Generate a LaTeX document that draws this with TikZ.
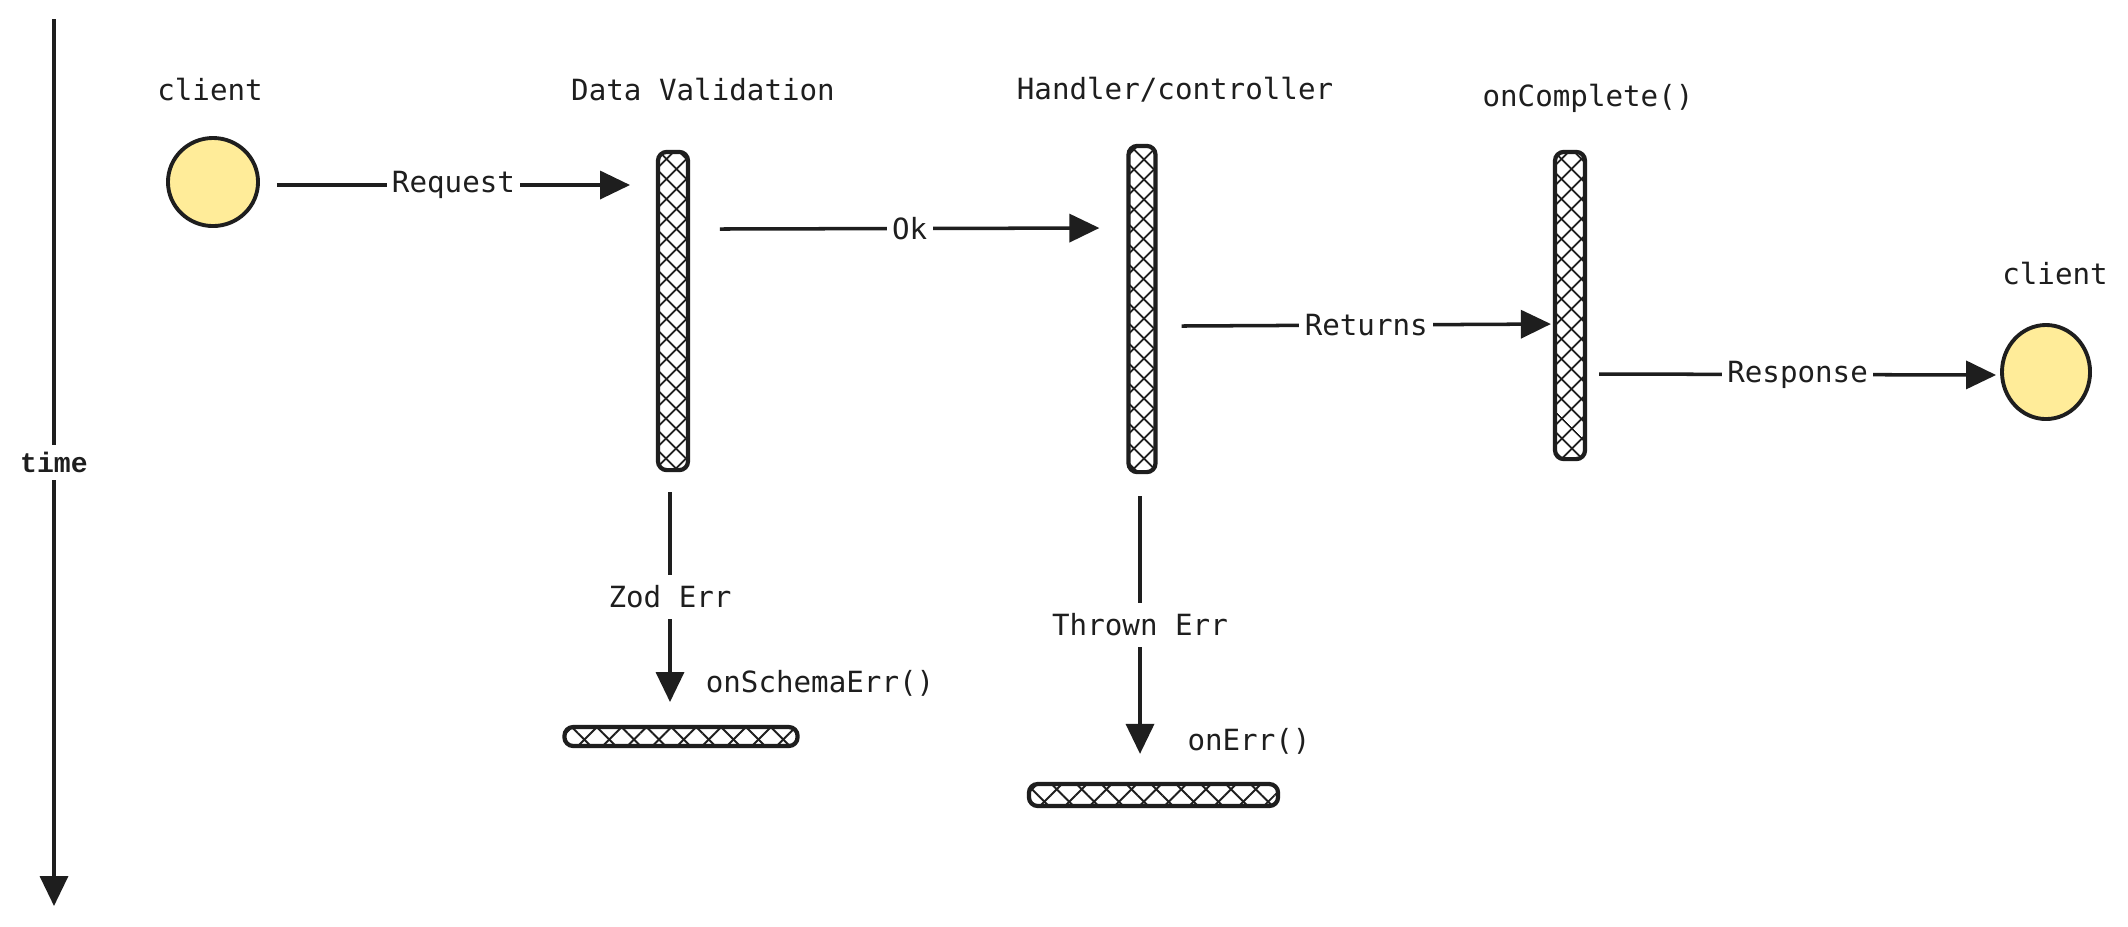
\documentclass[tikz,border=0pt]{standalone}
\usepackage{fontspec}
\setmonofont{DejaVu Sans Mono}
\newfontfamily\timefont{Liberation Mono}
\usetikzlibrary{arrows.meta,patterns.meta,calc,shapes.geometric}
\definecolor{cyellow}{HTML}{FFEC99}
\definecolor{ink}{HTML}{1E1E1E}
\begin{document}
\begin{tikzpicture}[x=0.01cm,y=-0.01cm,
  arr/.style={draw=ink,line width=1pt,-{Triangle[length=0.3cm,width=0.28cm]}},
  lbl/.style={fill=white,inner sep=1.5pt,font=\fontsize{8.3pt}{10pt}\ttfamily,text=ink},
  title/.style={font=\fontsize{8.3pt}{10pt}\ttfamily,text=ink,inner sep=0pt},
  client/.style={ellipse,draw=ink,line width=1.1pt,fill=cyellow,inner sep=0pt},
  vbar/.style={draw=ink,line width=1.2pt,rounded corners=2.5pt,inner sep=0pt,minimum width=0.3cm,
    pattern={Lines[angle=45,distance=4pt,line width=0.55pt]},pattern color=ink,
    postaction={pattern={Lines[angle=-45,distance=4pt,line width=0.55pt]},pattern color=ink}},
  hbar/.style={draw=ink,line width=1.2pt,rounded corners=2.5pt,inner sep=0pt,
    pattern={Lines[angle=45,distance=5pt,line width=0.55pt]},pattern color=ink,
    postaction={pattern={Lines[angle=-45,distance=5pt,line width=0.55pt]},pattern color=ink}}
]
\fill[white] (0,0) rectangle (2128,926);
\useasboundingbox (0,0) rectangle (2128,926);

% time axis
\coordinate (t1) at (54,19);
\coordinate (t2) at (54,906);
\draw[arr] (t1) -- (t2) node[midway,fill=white,inner sep=2pt,text=ink,font=\fontsize{8pt}{10pt}\timefont\bfseries]{time};

% participants
\node[client,minimum width=0.9cm,minimum height=0.88cm] (c1) at (213,182) {};
\node[title] (c1t) at (210,90) {client};

\node[vbar,minimum height=3.18cm] (dv) at (673,311) {};
\node[title] (dvt) at (703,90) {Data Validation};

\node[vbar,minimum width=0.27cm,minimum height=3.26cm] (hc) at (1142,309) {};
\node[title] (hct) at (1175,90) {Handler/controller};

\node[vbar,minimum height=3.07cm] (oc) at (1570,305.5) {};
\node[title] (oct) at (1588,98) {onComplete()};

\node[client,minimum width=0.88cm,minimum height=0.94cm] (c2) at (2046,372) {};
\node[title] (c2t) at (2055,274) {client};

\node[hbar,minimum width=2.33cm,minimum height=0.19cm] (bs) at (681,736.5) {};
\node[title] (bst) at (820,683) {onSchemaErr()};

\node[hbar,minimum width=2.49cm,minimum height=0.22cm] (be) at (1153.5,795) {};
\node[title] (bet) at (1249,741) {onErr()};

% messages
\draw[arr] ($(c1.east)+(17,3)$) -- ($(c1.east -| dv.west)+(-27,3)$) node[lbl,midway]{Request};
\draw[arr] ($(dv.east |- 0,229)+(31,0)$) -- ($(hc.west |- 0,228)+(-27,0)$) node[lbl,midway]{Ok};
\draw[arr] ($(hc.east |- 0,326)+(24,0)$) -- ($(oc.west |- 0,324)+(-2,0)$) node[lbl,midway]{Returns};
\draw[arr] ($(oc.east |- 0,374)+(12,0)$) -- ($(c2.west |- 0,375)+(-4,0)$) node[lbl,midway]{Response};
\draw[arr] ($(dv.south)+(-3,21)$) -- ($(dv.south |- bs.north)+(-3,-24)$) node[lbl,midway,inner sep=3pt]{Zod Err};
\draw[arr] ($(hc.south)+(-2,22)$) -- ($(hc.south |- be.north)+(-2,-28)$) node[lbl,midway,inner sep=3pt]{Thrown Err};
\end{tikzpicture}
\end{document}
